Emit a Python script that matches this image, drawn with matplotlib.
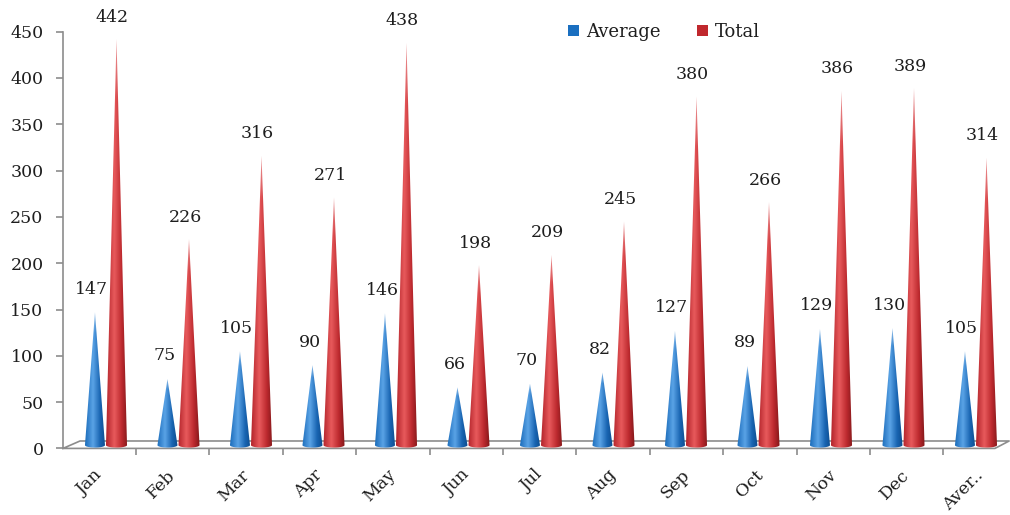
import matplotlib
matplotlib.use("Agg")
import matplotlib.pyplot as plt
import numpy as np
from matplotlib.patches import Polygon, Patch
from matplotlib.colors import to_rgb

months = ["Jan", "Feb", "Mar", "Apr", "May", "Jun", "Jul", "Aug",
          "Sep", "Oct", "Nov", "Dec", "Aver.."]
average = [147, 75, 105, 90, 146, 66, 70, 82, 127, 89, 129, 130, 105]
total = [442, 226, 316, 271, 438, 198, 209, 245, 380, 266, 386, 389, 314]

plt.rcParams["font.family"] = ["DejaVu Serif"]
TEXT = "#1e1e1e"
AXIS = "#8c8c8c"

# shading stops across a cone: left edge, highlight, shoulder, right edge
BLUE = ["#1c6dbb", "#5aa3e6", "#1a66b3", "#0b4a8c"]
RED = ["#b3242a", "#e85a5c", "#bd2a2f", "#821719"]


def cone_image(stops, nx=60, ny=120):
    u = np.linspace(0, 1, nx)
    rgb = np.array([to_rgb(c) for c in stops])
    pos = [0.0, 0.38, 0.72, 1.0]
    row = np.stack([np.interp(u, pos, rgb[:, k]) for k in range(3)], axis=-1)
    img = np.repeat(row[None, :, :], ny, axis=0)
    # lighten the thin tip a little
    t = np.linspace(0, 1, ny)
    fade = np.clip((t - 0.85) / 0.15, 0, 1)[:, None, None] * 0.4
    return img * (1 - fade) + fade


def draw_cone(ax, x, value, half_w, stops, base=3.5, drop=2.6):
    ang = np.linspace(0, -np.pi, 30)
    arc = np.column_stack([x + half_w * np.cos(ang), base + drop * np.sin(ang)])
    verts = np.vstack([[[x, value]], arc])
    clip = Polygon(verts, closed=True, facecolor="none", edgecolor="none",
                   transform=ax.transData)
    ax.add_patch(clip)
    im = ax.imshow(cone_image(stops), origin="lower", aspect="auto",
                   interpolation="bilinear",
                   extent=[x - half_w, x + half_w, base - drop, value], zorder=3)
    im.set_clip_path(clip)


fig = plt.figure(figsize=(10.1, 5.15), dpi=100)
ax = fig.add_axes([63 / 1010, 66.6 / 515, 942.5 / 1010, 416.7 / 515])

idx = np.arange(len(months))
for i in idx:
    draw_cone(ax, i - 0.059, average[i], 0.138, BLUE)
    draw_cone(ax, i + 0.238, total[i], 0.145, RED)
    ax.annotate(str(average[i]), (i - 0.059, average[i]), xytext=(-3, 23),
                textcoords="offset pixels", ha="center", va="center",
                fontsize=12.5, color=TEXT)
    ax.annotate(str(total[i]), (i + 0.238, total[i]), xytext=(-4, 22),
                textcoords="offset pixels", ha="center", va="center",
                fontsize=12.5, color=TEXT)

ax.set_xlim(-0.5, 12.5)
ax.set_ylim(0, 450)

# floor of the chart
ax.plot([-0.5, 12.355, 12.55, -0.2655, -0.5], [0, 0, 8, 8, 0],
        color=AXIS, lw=1.2, clip_on=False, zorder=2)

for side in ["top", "right", "bottom"]:
    ax.spines[side].set_visible(False)
ax.spines["left"].set_color(AXIS)
ax.spines["left"].set_linewidth(1.2)

ax.set_yticks(np.arange(0, 451, 50))
ax.tick_params(axis="y", length=5, width=1.2, color=AXIS, pad=9,
               labelsize=12.5, labelcolor=TEXT)

ax.set_xticks(0.507 + 1.0124 * np.arange(12))
ax.set_xticklabels([])
ax.tick_params(axis="x", length=5, width=1.2, color=AXIS)

for k, name in enumerate(months):
    ax.text(0.09 + 1.0124 * k, -19.5, name, rotation=45, ha="right",
            va="top", fontsize=12.5, color=TEXT, clip_on=False)

handles = [Patch(facecolor="#1a6fc0", label="Average"),
           Patch(facecolor="#c0282d", label="Total")]
fig.legend(handles=handles, loc="center left", ncol=2, frameon=False,
           bbox_to_anchor=(552 / 1010, 1 - 32 / 515), fontsize=13,
           handlelength=0.6, handleheight=0.6, handletextpad=0.4,
           columnspacing=2.0, labelcolor=TEXT)

fig.savefig("out.png", dpi=100)
